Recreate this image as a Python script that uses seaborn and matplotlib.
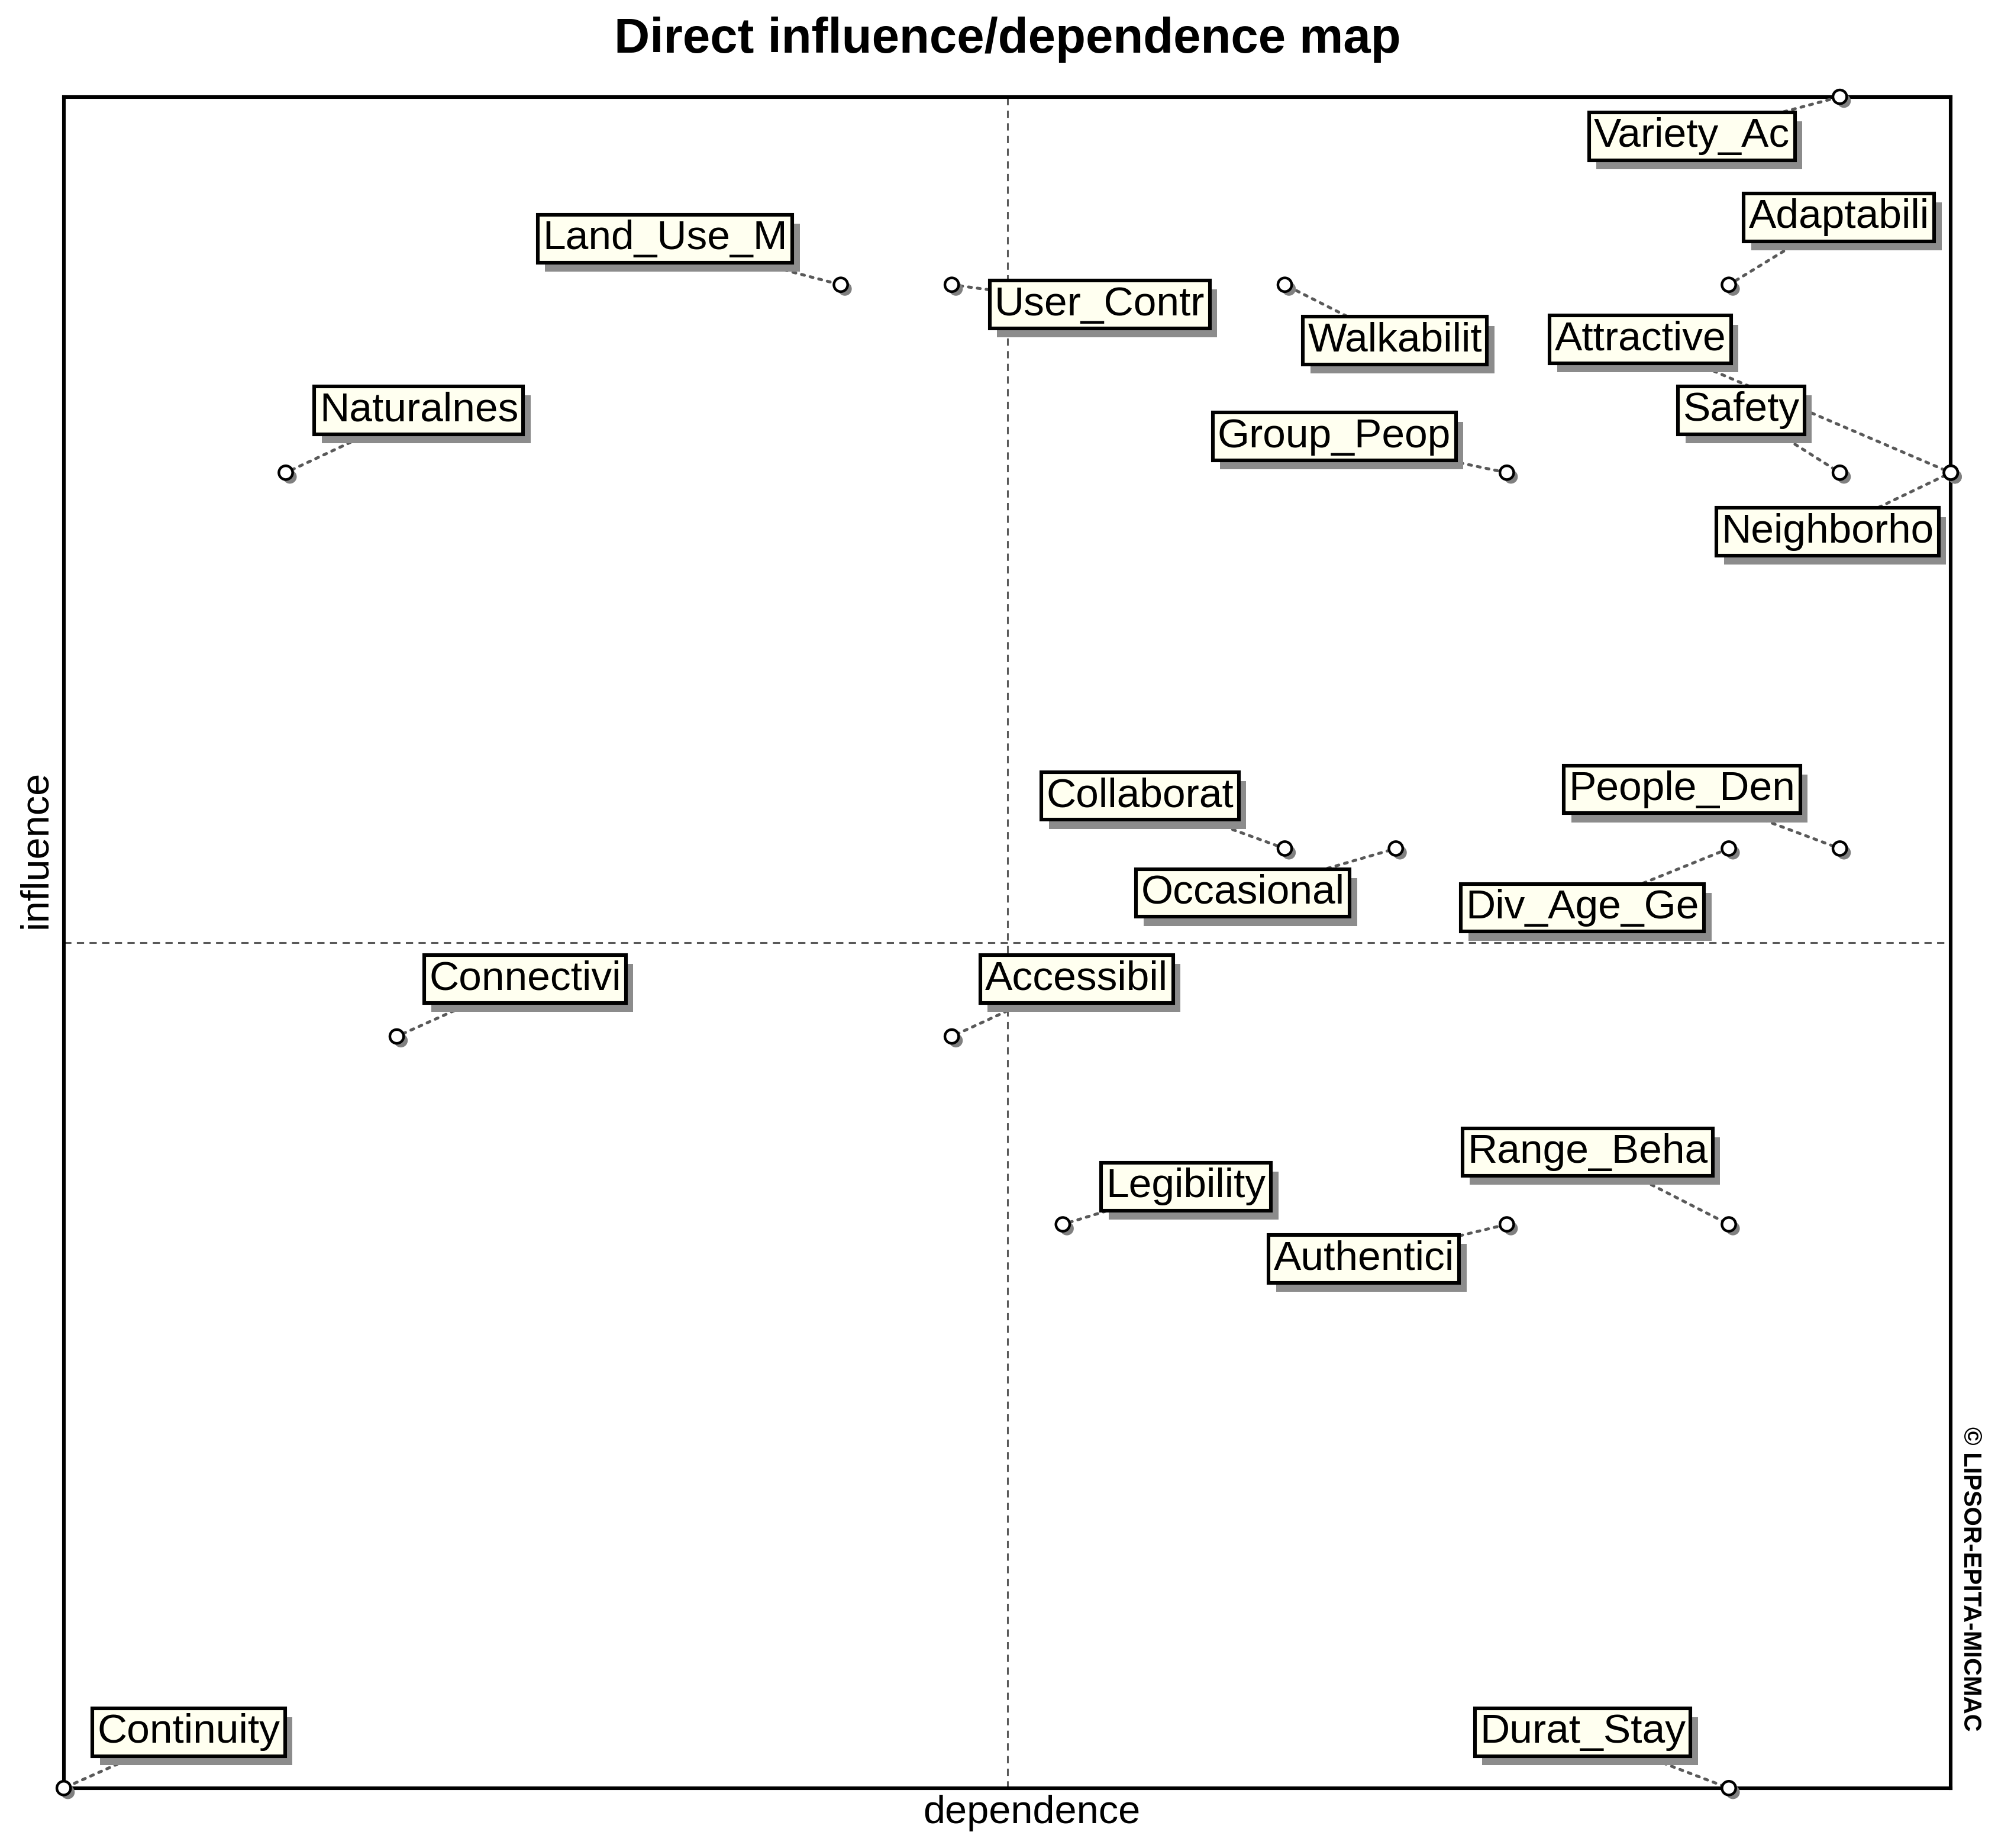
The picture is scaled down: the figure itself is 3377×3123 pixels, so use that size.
import matplotlib
matplotlib.use("Agg")
import matplotlib.pyplot as plt
import matplotlib.patheffects as pe
import pandas as pd
import seaborn as sns

# values (dependence = x, influence = y, arbitrary units)
variables = [
    "Variety_Ac", "Adaptabili", "Land_Use_M", "User_Contr", "Walkabilit",
    "Attractive", "Safety", "Group_Peop", "Naturalnes", "Neighborho",
    "Collaborat", "Occasional", "People_Den", "Div_Age_Ge", "Connectivi",
    "Accessibil", "Legibility", "Range_Beha", "Authentici", "Continuity",
    "Durat_Stay",
]
dependence = [16, 15, 7, 8, 11, 17, 16, 13, 2, 17, 11, 12, 16, 15, 3, 8, 9, 15, 13, 0, 15]
influence = [9, 8, 8, 8, 8, 7, 7, 7, 7, 7, 5, 5, 5, 5, 4, 4, 3, 3, 3, 0, 0]

# where each label box sits relative to its point (offset points)
label_offsets = {
    "Variety_Ac": (-90, -24), "Adaptabili": (67, 41), "Land_Use_M": (-107, 28),
    "User_Contr": (90, -12), "Walkabilit": (67, -34), "Attractive": (-189, 81),
    "Safety": (-60, 38), "Group_Peop": (-105, 22), "Naturalnes": (81, 38),
    "Neighborho": (-75, -36), "Collaborat": (-88, 32), "Occasional": (-93, -27),
    "People_Den": (-96, 36), "Div_Age_Ge": (-89, -36), "Connectivi": (78, 35),
    "Accessibil": (76, 35), "Legibility": (75, 23), "Range_Beha": (-86, 44),
    "Authentici": (-87, -21), "Continuity": (76, 34), "Durat_Stay": (-89, 34),
}

df = pd.DataFrame({"variable": variables, "dependence": dependence, "influence": influence})

sns.set_theme(style="white")
plt.rcParams["font.family"] = ["Liberation Sans", "DejaVu Sans"]
plt.rcParams["text.color"] = "black"
plt.rcParams["axes.labelcolor"] = "black"

fig = plt.figure(figsize=(3377 / 200, 3123 / 200), dpi=200)
ax = fig.add_axes([0.0319, 0.0324, 0.9445, 0.9152])

xmin, xmax = df["dependence"].min(), df["dependence"].max()
ymin, ymax = df["influence"].min(), df["influence"].max()
ax.set_xlim(xmin, xmax)
ax.set_ylim(ymin, ymax)

# quadrant lines at the middle of each range
ax.axvline((xmin + xmax) / 2, color="0.35", lw=1.1, ls=(0, (4, 3)), zorder=1)
ax.axhline((ymin + ymax) / 2, color="0.35", lw=1.1, ls=(0, (4, 3)), zorder=1)

box_shadow = [pe.SimplePatchShadow(offset=(4.5, -5.5), shadow_rgbFace="0.55", alpha=1.0), pe.Normal()]
for _, row in df.iterrows():
    ann = ax.annotate(
        row["variable"],
        xy=(row["dependence"], row["influence"]),
        xytext=label_offsets[row["variable"]],
        textcoords="offset points",
        ha="center", va="center", fontsize=25, color="black",
        bbox=dict(boxstyle="square,pad=0.12", fc="#fffff0", ec="black", lw=2.2),
        arrowprops=dict(arrowstyle="-", ls=(0, (1, 2)), lw=1.8, color="0.35",
                        shrinkA=0, shrinkB=4),
        annotation_clip=False, zorder=3,
    )
    ann.get_bbox_patch().set_path_effects(box_shadow)

sns.scatterplot(
    data=df, x="dependence", y="influence", ax=ax,
    marker="o", s=70, facecolor="white", edgecolor="black", linewidth=1.6,
    clip_on=False, zorder=5, legend=False,
)
ax.collections[-1].set_path_effects(
    [pe.SimplePatchShadow(offset=(2.5, -2.5), shadow_rgbFace="0.5", alpha=1.0), pe.Normal()]
)

ax.set_xticks([])
ax.set_yticks([])
for spine in ax.spines.values():
    spine.set_color("black")
    spine.set_linewidth(2.2)

ax.set_title("Direct influence/dependence map", fontsize=30, fontweight="bold",
             pad=27, color="black")
ax.set_xlabel("dependence", fontsize=24)
ax.xaxis.set_label_coords(0.513, -0.004)
ax.set_ylabel("influence", fontsize=24)
ax.yaxis.set_label_coords(-0.005, 0.555)

fig.text(0.986, 0.228, "\u00a9 LIPSOR-EPITA-MICMAC", rotation=-90,
         ha="center", va="top", fontsize=15, fontweight="bold")

fig.savefig("out.png", dpi=200)
